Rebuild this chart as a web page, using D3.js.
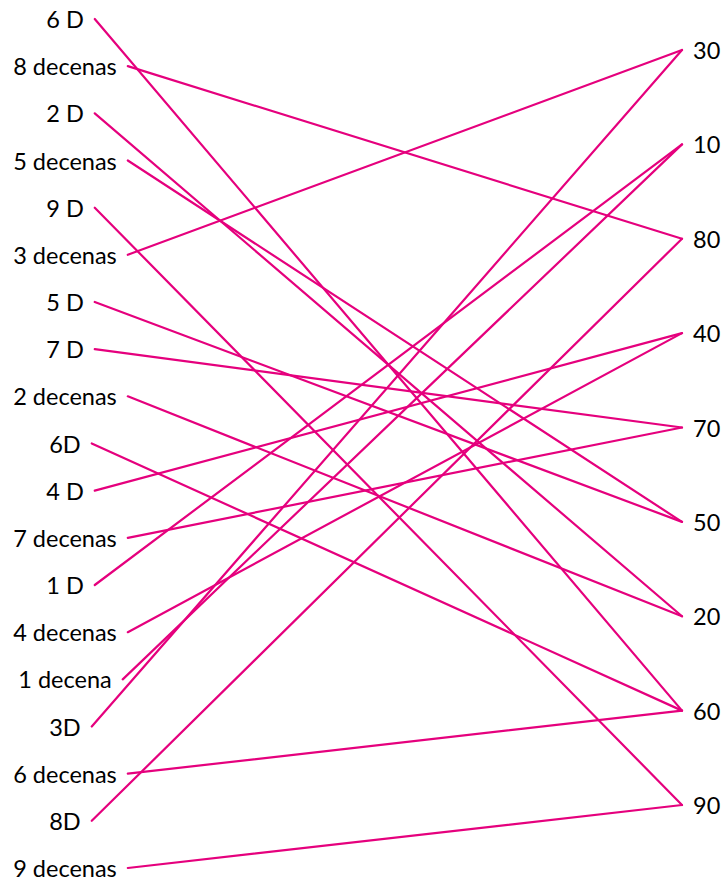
<!DOCTYPE html>
<html>
<head>
<meta charset="utf-8">
<script src="https://cdn.jsdelivr.net/npm/d3@7"></script>
<style>
  body { margin: 0; background: #fff; }
  text { font-family: Lato, "Liberation Sans", sans-serif; fill: #000; }
</style>
</head>
<body>
<svg id="chart" width="722" height="883"></svg>
<script>
// left column labels, top to bottom
var leftLabels = ['6 D', '8 decenas', '2 D', '5 decenas', '9 D', '3 decenas', '5 D', '7 D',
  '2 decenas', '6D', '4 D', '7 decenas', '1 D', '4 decenas', '1 decena', '3D', '6 decenas', '8D', '9 decenas'];
// value each left label is matched to
var leftMatch = [60, 80, 20, 50, 90, 30, 50, 70, 20, 60, 40, 70, 10, 40, 10, 30, 60, 80, 90];
// right column values, top to bottom
var rightValues = [30, 10, 80, 40, 70, 50, 20, 60, 90];

var svg = d3.select('#chart');
var lineColor = '#e5007d';

var yLeft = d3.scalePoint()
  .domain(d3.range(leftLabels.length))
  .range([19, 868]);

var yRight = d3.scalePoint()
  .domain(rightValues)
  .range([50, 805]);

var fontSize = 23.5;
var leftCenter = 65, rightTextX = 693, rightLineX = 682;

var lg = svg.append('g');
var labels = lg.selectAll('text').data(leftLabels)
  .enter()
  .append('text')
  .attr('x', leftCenter)
  .attr('y', (d, i) => yLeft(i))
  .attr('text-anchor', 'middle')
  .attr('dominant-baseline', 'central')
  .style('font-size', fontSize + 'px')
  .text(d => d);

// line start just right of each label
var starts = [];
labels.each(function(d, i) {
  var w = this.getComputedTextLength();
  starts.push(leftCenter + w / 2 + 11);
});

var rg = svg.append('g');
rg.selectAll('text').data(rightValues)
  .enter()
  .append('text')
  .attr('x', rightTextX)
  .attr('y', d => yRight(d))
  .attr('dominant-baseline', 'central')
  .style('font-size', fontSize + 'px')
  .text(d => d);

var links = svg.append('g');
links.selectAll('line').data(leftLabels)
  .enter()
  .append('line')
  .attr('x1', (d, i) => starts[i])
  .attr('y1', (d, i) => yLeft(i))
  .attr('x2', rightLineX)
  .attr('y2', (d, i) => yRight(leftMatch[i]))
  .attr('stroke', lineColor)
  .attr('stroke-width', 2.2)
  .attr('stroke-linecap', 'round');
</script>
</body>
</html>
